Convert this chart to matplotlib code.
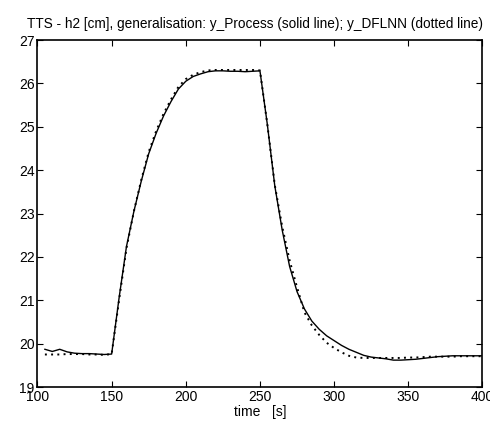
import numpy as np
import matplotlib.pyplot as plt

plt.rcParams['font.family'] = ['Liberation Sans', 'DejaVu Sans']

t = np.arange(105, 401, 5)

# y_Process (solid line)
y_process = [19.87, 19.82, 19.87, 19.81, 19.78, 19.77, 19.77, 19.76, 19.75, 19.76,
             21.05, 22.24, 23.05, 23.75, 24.38, 24.85, 25.25, 25.58, 25.87, 26.05,
             26.16, 26.22, 26.27, 26.29, 26.29, 26.28, 26.28, 26.27, 26.28, 26.29,
             25.05, 23.64, 22.62, 21.78, 21.2, 20.8, 20.52, 20.33, 20.18, 20.07,
             19.96, 19.87, 19.8, 19.73, 19.69, 19.67, 19.65, 19.62, 19.62, 19.63,
             19.64, 19.66, 19.68, 19.7, 19.71, 19.72, 19.72, 19.72, 19.72, 19.72]

# y_DFLNN (dotted line)
y_dflnn = [19.75, 19.75, 19.75, 19.76, 19.76, 19.76, 19.75, 19.75, 19.74, 19.76,
           21.0, 22.2, 23.05, 23.78, 24.42, 24.9, 25.3, 25.63, 25.92, 26.1,
           26.2, 26.26, 26.3, 26.31, 26.31, 26.31, 26.31, 26.31, 26.31, 26.3,
           25.05, 23.66, 22.7, 21.92, 21.3, 20.72, 20.42, 20.2, 20.02, 19.9,
           19.8, 19.72, 19.68, 19.67, 19.67, 19.67, 19.67, 19.67, 19.67, 19.68,
           19.68, 19.69, 19.7, 19.7, 19.7, 19.7, 19.71, 19.71, 19.71, 19.71]

fig = plt.figure(figsize=(4.9, 4.26), dpi=100)
ax = fig.add_axes([0.0765, 0.0915, 0.908, 0.8145])

ax.plot(t, y_process, color='black', linewidth=1.0, linestyle='-')
ax.plot(t, y_dflnn, color='black', linewidth=1.4, linestyle=(0, (1, 2.2)))

ax.set_xlim(100, 400)
ax.set_ylim(19, 27)
ax.set_xticks([100, 150, 200, 250, 300, 350, 400])
ax.set_yticks(range(19, 28))
ax.tick_params(direction='in', top=True, right=True, length=4, width=0.8,
               labelsize=10, pad=2)
for s in ax.spines.values():
    s.set_linewidth(1.2)

ax.set_xlabel('time   [s]', fontsize=10, labelpad=1)
ax.set_title('TTS - h2 [cm], generalisation: y_Process (solid line); y_DFLNN (dotted line)',
             fontsize=9.8, pad=9, x=0.49)

fig.savefig('out.png', dpi=100)
